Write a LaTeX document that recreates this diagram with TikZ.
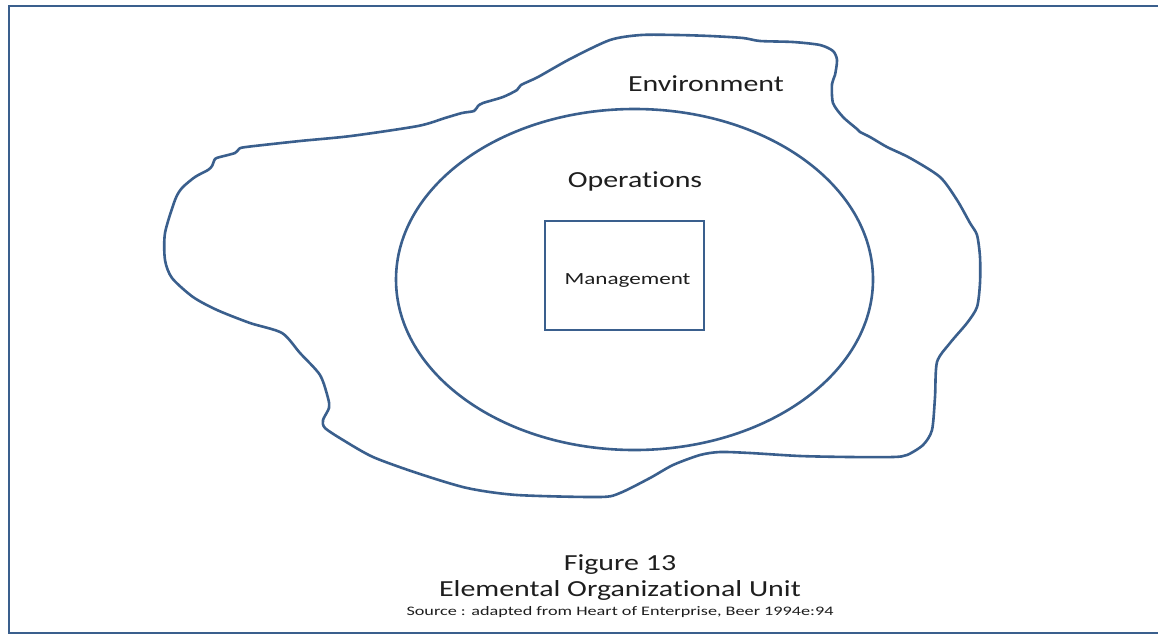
\documentclass[tikz,border=0pt]{standalone}
\usepackage{fontspec}
\setmainfont{Carlito}[Ligatures={NoCommon}]
\usetikzlibrary{shapes.geometric}
\definecolor{lineblue}{HTML}{3A5F8D}
\definecolor{txt}{HTML}{1E1E1E}
\newcommand{\wide}[1]{\scalebox{1.3}[1]{#1}}
\tikzset{
  outline/.style={draw=lineblue, line width=2.6pt},
  label23/.style={text=txt, inner sep=0pt, font=\fontsize{23}{27}\selectfont},
}
\begin{document}
\begin{tikzpicture}[x=1pt,y=-1pt]
\useasboundingbox (0,0) rectangle (1158,635);
\fill[white] (0,0) rectangle (1158,635);
% frame (right side cut off)
\coordinate (ftr) at (1158,6);
\coordinate (ftl) at (9,6);
\coordinate (fbl) at (9,633);
\coordinate (fbr) at (1158,633);
\draw[draw=lineblue, line width=2.8pt] (ftr) -- (ftl) -- (fbl) -- (fbr);
% environment blob
\draw[outline, line join=round] plot[smooth cycle, tension=0.45] coordinates {
(175,200) (182,188) (195,177) (208,170) (212,166) (215,159) (220,157) (235,153) (239,149) (246,147)
(300,141) (351,136) (418,126) (445,118) (462,113) (474,111) (478,106) (483,103) (503,97) (517,90)
(521,85) (538,77) (570,59) (610,40) (641,35) (677,35) (710,36) (743,38) (760,41) (793,42)
(820,45) (833,51) (837,60) (835,75) (832,84) (833,103) (843,117) (857,129) (860,132) (870,137)
(887,147) (910,158) (940,177) (957,200) (970,223) (977,235) (980,257) (980,283) (977,307) (967,323)
(950,343) (937,362) (935,397) (932,430) (923,445) (907,455) (893,457) (850,457) (800,456) (750,453)
(720,452) (700,455) (673,465) (650,478) (620,493) (600,497) (517,495) (467,488) (417,473) (373,457)
(343,440) (325,428) (323,420) (329,408) (328,398) (320,375) (300,353) (282,333) (250,323) (217,310)
(193,297) (172,278) (165,260) (165,233)
};
% operations circle
\node[outline, ellipse, inner sep=0pt, minimum width=477pt, minimum height=341pt] (ops) at (634.5,279.5) {};
% management box and its label
\node[outline, rectangle, inner sep=0pt, minimum width=159pt, minimum height=109pt] (mgmt) at (624.5,275.5) {};
\node[text=txt, inner sep=0pt, font=\fontsize{17}{20}\selectfont] (mgmtlabel) at (627.5,280.5) {\scalebox{1.36}[1]{Management}};
% labels
\node[label23] (env) at (706,84) {\wide{Environment}};
\node[label23] (opl) at (635,181) {\wide{Operat\kern0pt ions}};
% caption
\node[label23] (fig) at (620,565) {\wide{Figure 13}};
\node[label23] (title) at (620,590) {\wide{Elemental Organizat\kern0pt ional Unit}};
\node[text=txt, inner sep=0pt, font=\fontsize{13}{15}\selectfont] (src) at (620,612) {\scalebox{1.4}[1]{Source : adapted from Heart of Enterprise, Beer 1994e:94}};
\end{tikzpicture}
\end{document}
